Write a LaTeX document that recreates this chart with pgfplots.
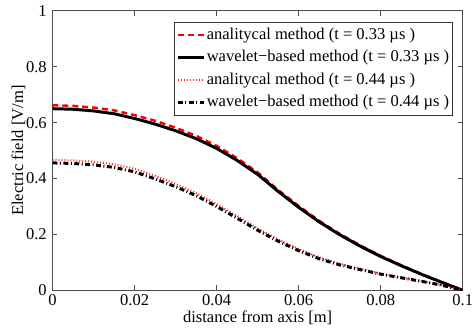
\documentclass[border=0pt]{standalone}
\usepackage{pgfplots}
\pgfplotsset{compat=1.18}
\usepackage{fontspec}
\setmainfont{Liberation Serif}
\begin{document}
\begin{tikzpicture}
\begin{axis}[
  name=ax, at={(0,0)}, anchor=south west,
  width=248.4pt, height=169.2pt, scale only axis,
  xmin=0, xmax=0.1, ymin=0, ymax=1,
  xtick={0,0.02,0.04,0.06,0.08,0.1},
  xticklabels={0,0.02,0.04,0.06,0.08,0.1},
  ytick={0,0.2,0.4,0.6,0.8,1},
  yticklabels={0,0.2,0.4,0.6,0.8,1},
  /pgf/number format/assume math mode=true,
  tick align=inside,
  major tick length=3pt,
  axis line style={black!70, line width=0.6pt},
  every tick/.style={black!70, line width=0.5pt},
  ticklabel style={font=\fontsize{10}{12}\selectfont},
  xticklabel style={yshift=1pt},
  xlabel={distance from axis [m]},
  ylabel={Electric field [V/m]},
  every axis x label/.style={at={(axis description cs:0.5,-0.099)}, anchor=center, font=\fontsize{10}{12}\selectfont},
  every axis y label/.style={at={(axis description cs:-0.083,0.5)}, rotate=90, anchor=center, font=\fontsize{10}{12}\selectfont},
  legend style={at={(0.976,0.961)}, anchor=north east, draw=black!80, line width=0.4pt,
    font=\fontsize{10}{12}\selectfont, inner xsep=1.5pt, inner ysep=1.5pt,
    row sep=1.2pt, cells={anchor=west}, nodes={inner xsep=0.6pt}},
  legend image code/.code={\draw[#1] (0pt,0pt) -- (16pt,0pt);},
]
% analytical t = 0.33 us
\addplot[red, line width=1.5pt, dash pattern=on 3.6pt off 2.4pt] coordinates {
(0,0.662) (0.005,0.660) (0.01,0.654) (0.015,0.644) (0.02,0.627) (0.025,0.607)
(0.03,0.582) (0.035,0.553) (0.04,0.517) (0.045,0.473) (0.05,0.422) (0.055,0.359)
(0.06,0.302) (0.065,0.249) (0.07,0.202) (0.075,0.161) (0.08,0.123) (0.085,0.090)
(0.09,0.058) (0.095,0.029) (0.1,0.0)};
\addlegendentry{analitycal method (t = 0.33 µs )}
% wavelet t = 0.33 us
\addplot[black, line width=1.8pt] coordinates {
(0,0.650) (0.005,0.648) (0.01,0.642) (0.015,0.632) (0.02,0.615) (0.025,0.595)
(0.03,0.571) (0.035,0.543) (0.04,0.508) (0.045,0.465) (0.05,0.415) (0.055,0.354)
(0.06,0.297) (0.065,0.245) (0.07,0.199) (0.075,0.158) (0.08,0.121) (0.085,0.088)
(0.09,0.057) (0.095,0.028) (0.1,0.0)};
\addlegendentry{wavelet−based method (t = 0.33 µs )}
% analytical t = 0.44 us
\addplot[red!85, line width=1.2pt, dash pattern=on 0.6pt off 1.2pt] coordinates {
(0,0.467) (0.005,0.465) (0.01,0.460) (0.015,0.451) (0.02,0.435) (0.025,0.410)
(0.03,0.381) (0.035,0.348) (0.04,0.309) (0.045,0.266) (0.05,0.222) (0.055,0.182)
(0.06,0.148) (0.065,0.118) (0.07,0.095) (0.075,0.077) (0.08,0.060) (0.085,0.046)
(0.09,0.033) (0.095,0.019) (0.1,0.0)};
\addlegendentry{analitycal method (t = 0.44 µs )}
% wavelet t = 0.44 us
\addplot[black, line width=1.8pt, dash pattern=on 3pt off 1.5pt on 0.6pt off 1.5pt] coordinates {
(0,0.456) (0.005,0.454) (0.01,0.449) (0.015,0.440) (0.02,0.424) (0.025,0.399)
(0.03,0.371) (0.035,0.339) (0.04,0.300) (0.045,0.258) (0.05,0.215) (0.055,0.176)
(0.06,0.142) (0.065,0.113) (0.07,0.091) (0.075,0.074) (0.08,0.058) (0.085,0.045)
(0.09,0.032) (0.095,0.018) (0.1,0.0)};
\addlegendentry{wavelet−based method (t = 0.44 µs )}
\end{axis}
\pgfresetboundingbox
\path[use as bounding box] ([shift={(-31.8pt,-24pt)}]ax.south west) rectangle ([shift={(255.2pt,175.8pt)}]ax.south west);
\end{tikzpicture}
\end{document}
